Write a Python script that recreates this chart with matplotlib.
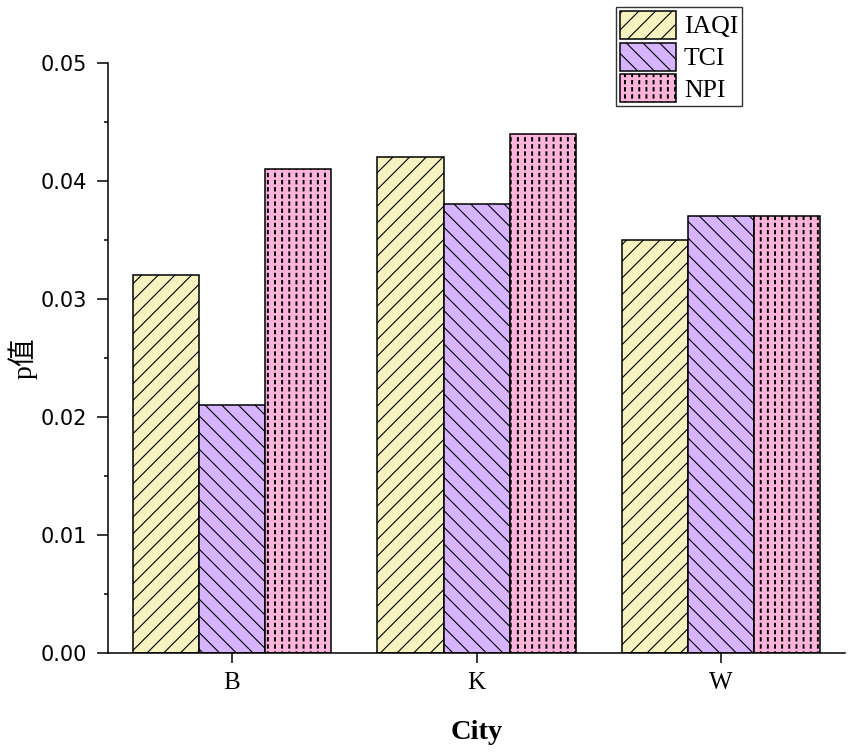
import numpy as np
import matplotlib
matplotlib.use("Agg")
import matplotlib.pyplot as plt
import matplotlib.hatch as mhatch
from matplotlib.path import Path

# ---- data ----
cities = ["B", "K", "W"]
series = ["IAQI", "TCI", "NPI"]
iaqi = [0.032, 0.042, 0.035]
tci = [0.021, 0.038, 0.037]
npi = [0.041, 0.044, 0.037]
yticks = [0.00, 0.01, 0.02, 0.03, 0.04, 0.05]

colors = ["#F6F3C0", "#D6B4FF", "#FFB4DC"]
hatches = ["//", "\\\\", "|"]


# custom hatch: short vertical dashes on a grid (replaces '|')
class VDashHatch(mhatch.HatchPatternBase):
    def __init__(self, hatch, density):
        n = hatch.count('|')
        self.N = 14 if n else 0
        self.num_vertices = self.N * self.N * 5

    def set_vertices_and_codes(self, vertices, codes):
        N = self.N
        w = 0.004
        h = 0.0165
        k = 0
        for i in range(N):
            for j in range(N):
                cx = (j + 0.5) / N
                cy = (i + 0.5) / N
                vertices[k:k + 5] = [[cx - w, cy - h], [cx + w, cy - h],
                                     [cx + w, cy + h], [cx - w, cy + h],
                                     [cx - w, cy - h]]
                codes[k:k + 5] = [Path.MOVETO, Path.LINETO, Path.LINETO,
                                  Path.LINETO, Path.CLOSEPOLY]
                k += 5


mhatch._hatch_types = [VDashHatch if t is mhatch.VerticalHatch else t
                       for t in mhatch._hatch_types]

plt.rcParams['hatch.linewidth'] = 0.8
plt.rcParams['hatch.color'] = 'black'

fig = plt.figure(figsize=(8.51, 7.55), dpi=100)
ax = fig.add_axes([0.1269, 0.1351, 0.993 - 0.1269, 0.917 - 0.1351])

x = np.arange(len(cities))
width = 0.27
data = [iaqi, tci, npi]
handles = []
for k, (vals, c, h, lab) in enumerate(zip(data, colors, hatches, series)):
    bars = ax.bar(x + (k - 1) * width, vals, width, color=c, edgecolor="black",
                  linewidth=1.1, hatch=h, label=lab)
    handles.append(bars)

ax.set_xlim(-0.507, 2.507)
ax.set_ylim(0, 0.05)
ax.set_yticks(yticks)
ax.set_yticklabels([f"{v:.2f}" for v in yticks], family="DejaVu Sans", fontsize=15)
ax.set_yticks(np.arange(0.005, 0.05, 0.01), minor=True)
ax.set_xticks(x)
ax.set_xticklabels(cities, family="Liberation Serif", fontsize=18)

for s in ["top", "right"]:
    ax.spines[s].set_visible(False)
for s in ["left", "bottom"]:
    ax.spines[s].set_linewidth(1.1)

ax.tick_params(axis="y", which="major", direction="out", length=8, width=1.1, pad=7)
ax.tick_params(axis="y", which="minor", direction="out", length=3, width=1.1)
ax.tick_params(axis="x", which="major", direction="out", length=7, width=1.1, pad=7)

ax.set_xlabel("City", family="Liberation Serif", fontsize=20.5, fontweight="bold")
ax.xaxis.set_label_coords(0.5, -0.113)
ax.set_ylabel("p值", family=["Liberation Serif", "Noto Sans CJK SC"], fontsize=20)
ax.yaxis.set_label_coords(-0.096, 0.5)

leg = fig.legend(handles=handles, labels=series, loc="upper right",
                 bbox_to_anchor=(0.872, 0.991), frameon=True, fancybox=False,
                 prop={"family": "Liberation Serif", "size": 18.5},
                 handlelength=2.2, handleheight=1.3, labelspacing=0.15,
                 borderpad=0.15, handletextpad=0.3, borderaxespad=0.0)
leg.get_frame().set_edgecolor("black")
leg.get_frame().set_linewidth(1.0)

fig.savefig("out.png", dpi=100)
